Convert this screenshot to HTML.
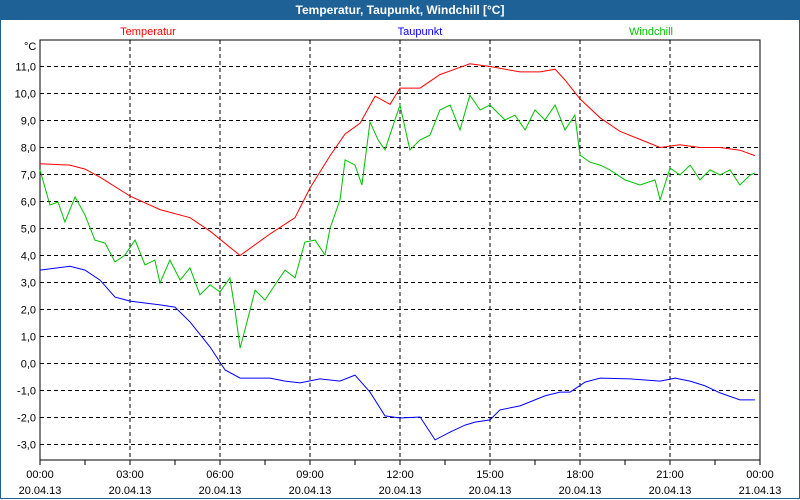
<!DOCTYPE html>
<html><head><meta charset="utf-8"><style>
body{margin:0;width:800px;height:500px;overflow:hidden;background:#fff;font-family:"Liberation Sans",sans-serif}
#wrap{position:absolute;left:0;top:0;width:798px;height:498px;border:1px solid #1e5f94;border-top:none}
#title{position:absolute;left:0;top:0;width:800px;height:20px;background:#1e6196;color:#fff;font-weight:bold;font-size:12px;line-height:21px;text-align:center}
svg{position:absolute;left:0;top:0}
text{font-family:"Liberation Sans",sans-serif;font-size:11px}
</style></head><body>
<div id="wrap"></div>
<div id="title">Temperatur, Taupunkt, Windchill [°C]</div>
<svg id="c" width="800" height="500"></svg>
<script>
const yTicks=[11,10,9,8,7,6,5,4,3,2,1,0,-1,-2,-3];
const xTickHours=[0,3,6,9,12,15,18,21,24];
const xTickTimes=["00:00","03:00","06:00","09:00","12:00","15:00","18:00","21:00","00:00"];
const xTickDates=["20.04.13","20.04.13","20.04.13","20.04.13","20.04.13","20.04.13","20.04.13","20.04.13","21.04.13"];
const tempHours=[0,1,1.5,2,3,4,5,5.67,6.67,7.67,8.5,9,9.67,10.17,10.67,11.17,11.67,12,12.67,13.33,13.83,14.33,15,16,16.67,17.17,17.5,18,18.67,19.33,20,20.67,21.33,22,22.67,23.33,23.83];
const tempValues=[7.4,7.35,7.2,6.9,6.2,5.7,5.4,4.9,4.0,4.8,5.4,6.5,7.7,8.5,8.9,9.9,9.6,10.2,10.2,10.7,10.9,11.1,11.0,10.8,10.8,10.9,10.5,9.8,9.1,8.6,8.3,8.0,8.1,8.0,8.0,7.9,7.7];
const dewHours=[0,1,1.5,2,2.5,3,4,4.5,5,5.67,6.17,6.67,7.67,8.17,8.67,9.33,10,10.5,11,11.5,12,12.67,13.17,13.67,14.17,14.5,15,15.33,16,16.83,17.33,17.67,18.17,18.67,19.67,20.67,21.17,21.67,22.17,22.67,23.33,23.83];
const dewValues=[3.46,3.6,3.46,3.09,2.46,2.31,2.17,2.09,1.54,0.61,-0.24,-0.54,-0.54,-0.65,-0.72,-0.57,-0.65,-0.43,-1.06,-1.94,-2.02,-1.98,-2.83,-2.54,-2.28,-2.17,-2.09,-1.72,-1.57,-1.2,-1.06,-1.06,-0.69,-0.54,-0.57,-0.65,-0.54,-0.65,-0.83,-1.09,-1.35,-1.35];
const windHours=[0,.33,.6,.83,1.17,1.5,1.83,2.17,2.5,2.83,3.17,3.5,3.83,4,4.33,4.67,5,5.33,5.67,6,6.33,6.5,6.67,6.83,7.17,7.5,7.83,8.17,8.5,8.83,9.17,9.5,9.67,10,10.17,10.5,10.73,11,11.27,11.5,11.83,12,12.33,12.67,13,13.33,13.67,14,14.33,14.67,15,15.5,15.83,16.17,16.5,16.83,17.17,17.5,17.83,18,18.33,18.67,19,19.5,20,20.5,20.67,21,21.33,21.67,22,22.33,22.67,23,23.33,23.67,23.83];
const windValues=[7.17,5.87,5.98,5.24,6.17,5.5,4.57,4.46,3.76,4.02,4.57,3.65,3.83,2.98,3.83,3.09,3.54,2.54,2.91,2.65,3.17,1.98,0.57,1.24,2.72,2.35,2.91,3.46,3.17,4.5,4.57,4.02,5.02,6.06,7.54,7.35,6.61,8.94,8.28,7.91,9.02,9.57,7.91,8.28,8.46,9.39,9.57,8.65,9.94,9.39,9.57,9.02,9.2,8.65,9.39,9.02,9.57,8.65,9.2,7.72,7.46,7.35,7.17,6.8,6.61,6.8,6.06,7.24,6.98,7.35,6.8,7.17,6.98,7.17,6.61,6.98,7.06];
const L=40,R=760,T=40,B=460;
const X=h=>L+h*(R-L)/24;
const Y=v=>66.5+(11-v)*27;
const svg=document.getElementById('c');const NS='http://www.w3.org/2000/svg';
function mk(tag,attrs,parent){const e=document.createElementNS(NS,tag);for(const k in attrs)e.setAttribute(k,attrs[k]);(parent||svg).appendChild(e);return e;}
// grid
yTicks.forEach(v=>{
 const g=mk('line',{x1:L,x2:R,y1:Y(v),y2:Y(v),stroke:'#000','stroke-dasharray':'4,3','shape-rendering':'crispEdges'});
 
 
 const t=mk('text',{x:L-4,y:Y(v)+4,'text-anchor':'end',fill:'#000'});
 t.textContent=v.toFixed(1).replace('.',',');
 
 
});
xTickHours.forEach((h,i)=>{
 if(h>0&&h<24){const g=mk('line',{x1:X(h),x2:X(h),y1:T,y2:B,stroke:'#000','stroke-dasharray':'4,3','shape-rendering':'crispEdges'});
 
 }
 const t1=mk('text',{x:X(h),y:478,'text-anchor':'middle',fill:'#000'});t1.textContent=xTickTimes[i];
 
 
 const t2=mk('text',{x:X(h),y:494,'text-anchor':'middle',fill:'#000'});t2.textContent=xTickDates[i];
 
 
});
for(let h=0;h<=24;h+=1.5){const m=mk('line',{x1:X(h),x2:X(h),y1:B,y2:B+5,stroke:'#000','shape-rendering':'crispEdges'});
 
 }
const ax=mk('rect',{x:L,y:T,width:R-L,height:B-T,fill:'none',stroke:'#000','stroke-width':1.2,'shape-rendering':'crispEdges'});


const unit=mk('text',{x:24,y:50,fill:'#000'});unit.textContent='°C';


function series(hs,vs,color,name){
 const n=Math.min(hs.length,vs.length);let d='';
 for(let i=0;i<n;i++)d+=(i?'L':'M')+X(hs[i]).toFixed(1)+','+Y(vs[i]).toFixed(1);
 const p=mk('path',{d:d,fill:'none',stroke:color,'stroke-width':1});
 
 
}
series(tempHours,tempValues,'#ff0000','temperatur-line');
series(dewHours,dewValues,'#0000ff','taupunkt-line');
series(windHours,windValues,'#00c000','windchill-line');
[['Temperatur','#ff0000',148,'legend-temperatur'],['Taupunkt','#0000ff',420,'legend-taupunkt'],['Windchill','#00c000',651,'legend-windchill']].forEach(a=>{
 const t=mk('text',{x:a[2],y:35,'text-anchor':'middle',fill:a[1]});t.textContent=a[0];
 
 
});
</script>
</body></html>
